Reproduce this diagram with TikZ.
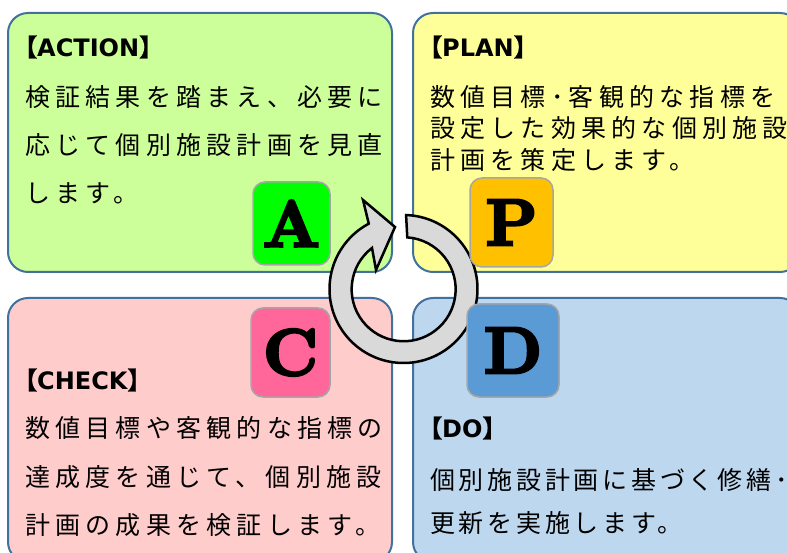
\documentclass[tikz,border=0pt]{standalone}
\usepackage{fontspec}
\newfontfamily\jp{Noto Sans CJK JP}[LetterSpace=21]
\newfontfamily\jpd{Noto Sans CJK JP}[LetterSpace=15]
\newfontfamily\jpb{Noto Sans CJK JP}[FakeBold=1.2]
\newfontfamily\lat{DejaVu Sans}
\newfontfamily\heavy{lmroman10-bold}[Extension=.otf, FakeBold=4]
\definecolor{boxline}{HTML}{41719C}
\definecolor{actfill}{HTML}{CCFF99}
\definecolor{planfill}{HTML}{FFFF99}
\definecolor{checkfill}{HTML}{FFCCCC}
\definecolor{dofill}{HTML}{BDD7EE}
\definecolor{afill}{HTML}{00FF00}
\definecolor{pfill}{HTML}{FFC000}
\definecolor{cfill}{HTML}{FF6699}
\definecolor{dfill}{HTML}{5B9BD5}
\definecolor{lbline}{HTML}{A6A6A6}
\definecolor{ringgray}{HTML}{D9D9D9}
\tikzset{
  quad/.style={draw=boxline, line width=2pt, rounded corners=20pt, inner sep=0pt, outer sep=0pt},
  letterbox/.style={draw=lbline, line width=1.5pt, rounded corners=12pt, inner sep=0pt,
    font=\fontsize{66}{66}\heavy},
  body/.style={anchor=west, inner sep=0pt, font=\fontsize{25}{25}\jp},
  bodyd/.style={anchor=west, inner sep=0pt, font=\fontsize{25}{25}\jpd},
  head/.style={anchor=west, inner sep=0pt, font=\fontsize{24}{24}\lat\bfseries},
  ring/.style={fill=ringgray, draw=black, line width=2.5pt, line join=miter}
}
\begin{document}
\begin{tikzpicture}[x=1pt,y=1pt]
\useasboundingbox (0,0) rectangle (787,552);
\clip (0,0) rectangle (787,552);
% quadrants
\node[quad, fill=actfill, minimum width=384pt, minimum height=259pt] (act) at (200,409.5) {};
\node[quad, fill=planfill, minimum width=387pt, minimum height=259pt] (plan) at (606.5,409.5) {};
\node[quad, fill=checkfill, minimum width=384pt, minimum height=264pt] (check) at (200,122) {};
\node[quad, fill=dofill, minimum width=387pt, minimum height=264pt] (do) at (606.5,122) {};
% ACTION text
\node[head] (ah) at (13,505) {{\jpb 【}ACTION{\jpb 】}};
\node[body] (a1) at (25,455) {検証結果を踏まえ、必要に};
\node[body] (a2) at (25,407) {応じて個別施設計画を見直};
\node[body] (a3) at (25,359) {します。};
% PLAN text
\node[head] (ph) at (418,505) {{\jpb 【}PLAN{\jpb 】}};
\node[body] (p1) at (430,455) {数値目標･客観的な指標を};
\node[body] (p2) at (430,424) {設定した効果的な個別施設};
\node[body] (p3) at (430,392) {計画を策定します。};
% CHECK text
\node[head] (ch) at (13,172) {{\jpb 【}CHECK{\jpb 】}};
\node[body] (c1) at (25,124) {数値目標や客観的な指標の};
\node[body] (c2) at (25,75) {達成度を通じて、個別施設};
\node[body] (c3) at (25,27) {計画の成果を検証します。};
% DO text
\node[head] (dh) at (418,124) {{\jpb 【}DO{\jpb 】}};
\node[bodyd] (d1) at (430,72) {個別施設計画に基づく修繕･};
\node[bodyd] (d2) at (430,29) {更新を実施します。};
% cycle arrow
\path[ring] (403.5,263) ++(88:74) arc[start angle=88, end angle=-242, radius=74]
  -- (363,352) -- (395,325) -- (376,282) -- (372,304)
  arc[start angle=-232.5, end angle=86, radius=52] -- cycle;
% letter boxes
\node[letterbox, fill=afill, minimum width=77pt, minimum height=83pt] (la) at (291.5,328.5) {A};
\node[letterbox, fill=pfill, minimum width=83pt, minimum height=89pt] (lp) at (511.5,329.5) {P};
\node[letterbox, fill=cfill, minimum width=79pt, minimum height=89pt] (lc) at (290.5,199.5) {C};
\node[letterbox, fill=dfill, minimum width=92pt, minimum height=93pt] (ld) at (513,201.5) {D};
\end{tikzpicture}
\end{document}
